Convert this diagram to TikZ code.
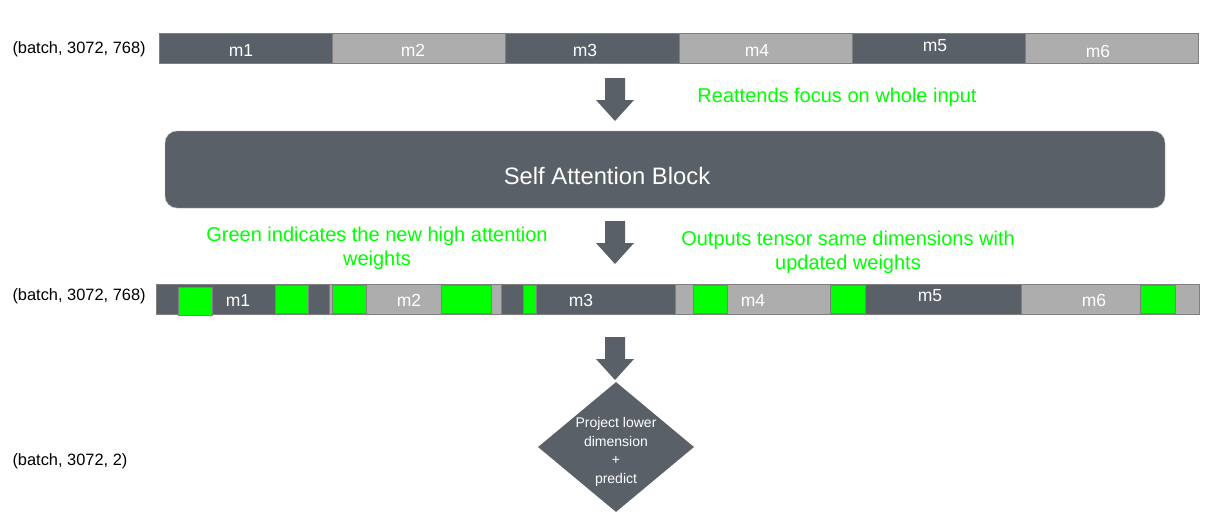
\documentclass[tikz,border=0pt]{standalone}
\usepackage{fontspec}
\setmainfont{Liberation Sans}
\usetikzlibrary{shapes,positioning}
\definecolor{slate}{HTML}{5A6068}
\definecolor{pale}{HTML}{ADADAD}
\definecolor{hotgreen}{HTML}{00FF00}

\begin{document}
\begin{tikzpicture}[x=1pt,y=-1pt,
    seg/.style = {draw=gray, line width=0.7pt, anchor=north west, minimum height=30pt, inner sep=0},
    hot/.style = {draw=gray, line width=0.6pt, fill=hotgreen, anchor=north west, minimum height=28pt, inner sep=0},
    seglabel/.style = {text=white, font=\fontsize{17.5}{20}\selectfont},
    dims/.style = {font=\fontsize{16.4}{19}\selectfont, anchor=west},
    note/.style = {text=hotgreen, align=center, font=\fontsize{20}{24}\selectfont},
    block/.style = {fill=slate, draw=gray!60, rounded corners=12pt, minimum width=1000pt, minimum height=77pt},
    decision/.style = {diamond, fill=slate, minimum width=156pt, minimum height=130pt, inner sep=0},
    blockarrow/.pic = {\fill[slate] (-10,0) -- (10,0) -- (10,22) -- (19,22) -- (0,43) -- (-19,22) -- (-10,22) -- cycle;}]
    \useasboundingbox (0,0) rectangle (1206,511);

    % input tensor
    \node[dims] (in) at (9,49) {(batch, 3072, 768)};
    \foreach \i/\x/\nx/\c in {1/159/332/slate, 2/332/505/pale, 3/505/679/slate, 4/679/852/pale, 5/852/1025/slate, 6/1025/1198/pale}
        \node[seg, fill=\c, minimum width={(\nx-\x)*1pt}] (top\i) at (\x,33) {};
    \foreach \i/\x/\y in {1/241/50, 2/413/50, 3/585/50, 4/757/50, 5/935/46, 6/1098/51}
        \node[seglabel] (ltop\i) at (\x,\y) {m\i};

    \pic (a1) at (615,78) {blockarrow};
    \node[note] (n1) at (837,97) {Reattends focus on whole input};

    % attention
    \node[block] (sab) at (665,169.5) {};
    \node[text=white, font=\fontsize{23.8}{26}\selectfont] (sabtext) at (607,176) {Self Attention Block};

    \pic (a2) at (615,221) {blockarrow};
    \node[note] (n2) at (377,248) {Green indicates the new high attention\\weights};
    \node[note] (n3) at (848,252) {Outputs tensor same dimensions with\\updated weights};

    % output tensor
    \node[dims] (out) at (9,296) {(batch, 3072, 768)};
    \foreach \i/\x/\nx/\c in {1/156/329/slate, 2/329/501/pale, 3/501/675/slate, 4/675/848/pale, 5/848/1021/slate, 6/1021/1199/pale}
        \node[seg, fill=\c, minimum width={(\nx-\x)*1pt}] (bot\i) at (\x,284) {};
    \foreach \a/\b/\t [count=\k] in {178/212/287, 275/308/285, 332/366/285, 441/491/285, 523/536/285, 693/727/285, 830/865/285, 1140/1175/285}
        \node[hot, minimum width={(\b-\a)*1pt}] (hot\k) at (\a,\t) {};
    \foreach \i/\x/\y in {1/238/300, 2/409/300, 3/581/300, 4/753/300, 5/930/296, 6/1094/300}
        \node[seglabel] (lbot\i) at (\x,\y) {m\i};

    \pic (a3) at (615,337) {blockarrow};

    % projection
    \node[decision] (proj) at (616,447) {};
    \node[text=white, align=center, font=\fontsize{14}{18.5}\selectfont] (projtext) at (616,452) {Project lower\\dimension\\+\\predict};
    \node[dims] (pred) at (9,461) {(batch, 3072, 2)};
\end{tikzpicture}
\end{document}
